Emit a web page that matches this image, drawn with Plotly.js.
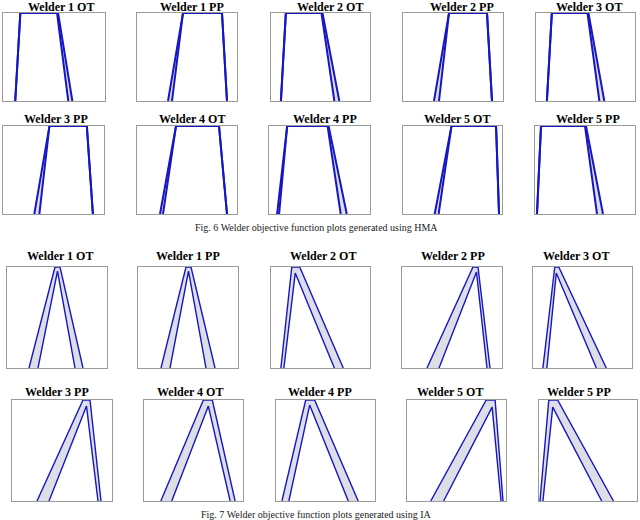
<!DOCTYPE html>
<html>
<head>
<meta charset="utf-8">
<script src="https://cdn.plot.ly/plotly-3.0.1.min.js"></script>
<style>
  html, body { margin: 0; padding: 0; background: #fff; }
  #chart { width: 640px; height: 520px; }
</style>
</head>
<body>
<div id="chart"></div>
<script>
// panel titles (same order in both figures)
var titles = ["Welder 1 OT", "Welder 1 PP", "Welder 2 OT", "Welder 2 PP", "Welder 3 OT",
              "Welder 3 PP", "Welder 4 OT", "Welder 4 PP", "Welder 5 OT", "Welder 5 PP"];

// Fig. 6 (HMA): x of the trapezoid corners [bottom-left, top-left, top-right, bottom-right]
var hmaUpper = [
  [0.12, 0.17, 0.54, 0.68], [0.31, 0.46, 0.85, 0.90], [0.10, 0.15, 0.52, 0.69],
  [0.31, 0.46, 0.84, 0.89], [0.11, 0.16, 0.53, 0.69], [0.31, 0.46, 0.83, 0.89],
  [0.23, 0.39, 0.82, 0.90], [0.08, 0.18, 0.59, 0.77], [0.32, 0.49, 0.94, 0.97],
  [0.02, 0.06, 0.51, 0.68]
];
var hmaLower = [
  [0.12, 0.17, 0.53, 0.64], [0.35, 0.46, 0.85, 0.90], [0.10, 0.15, 0.51, 0.64],
  [0.36, 0.46, 0.84, 0.89], [0.11, 0.16, 0.52, 0.64], [0.36, 0.46, 0.83, 0.89],
  [0.26, 0.39, 0.82, 0.90], [0.10, 0.18, 0.58, 0.71], [0.36, 0.49, 0.94, 0.97],
  [0.02, 0.06, 0.50, 0.62]
];
var hmaLowerPeak = [1, 1, 1, 1, 1, 1, 1, 1, 1, 1];

// Fig. 7 (IA)
var iaUpper = [
  [0.22, 0.48, 0.53, 0.76], [0.23, 0.48, 0.53, 0.77], [0.10, 0.21, 0.29, 0.73],
  [0.25, 0.71, 0.76, 0.88], [0.10, 0.22, 0.26, 0.74], [0.25, 0.71, 0.78, 0.89],
  [0.17, 0.60, 0.69, 0.92], [0.06, 0.30, 0.39, 0.83], [0.24, 0.80, 0.89, 0.97],
  [0.01, 0.10, 0.19, 0.76]
];
var iaLower = [
  [0.31, 0.505, 0.505, 0.68], [0.32, 0.505, 0.505, 0.68], [0.13, 0.245, 0.245, 0.64],
  [0.37, 0.745, 0.745, 0.85], [0.14, 0.235, 0.235, 0.64], [0.37, 0.745, 0.745, 0.86],
  [0.28, 0.65, 0.65, 0.87], [0.13, 0.34, 0.34, 0.73], [0.37, 0.86, 0.86, 0.95],
  [0.04, 0.14, 0.14, 0.64]
];
var iaLowerPeak = [0.96, 0.96, 0.94, 0.95, 0.94, 0.94, 0.94, 0.95, 0.93, 0.93];

var captions = ["Fig. 6 Welder objective function plots generated using HMA",
                "Fig. 7 Welder objective function plots generated using IA"];

// layout in pixels: panel boxes per row [x0, x1], row [y0, y1], title centres
var W = 640, H = 520;
var rowsY = [[13, 101], [126, 214], [267, 368], [400, 501]];
var boxesX = [
  [[3, 105], [137, 237], [271, 370], [403, 503], [536, 635]],
  [[3, 104], [137, 237], [269, 370], [403, 502], [535, 635]],
  [[7, 107], [138, 238], [271, 370], [402, 502], [533, 632]],
  [[12, 112], [144, 243], [276, 375], [407, 506], [539, 637]]
];
var titleCx = [[61, 192, 330, 462, 589], [56, 192, 325, 457, 588],
               [60, 188, 323, 453, 576], [57, 190, 320, 450, 579]];
var titleCy = [7, 119, 256, 392];
var captionY = [227, 514];

var blue = "#1616c4", grey = "#dedee6";
var traces = [];
var layout = {
  width: W, height: H,
  margin: {l: 0, r: 0, t: 0, b: 0},
  paper_bgcolor: "#fff", plot_bgcolor: "#fff",
  showlegend: false,
  annotations: []
};

function addPanel(k, upper, lower, peak, lw) {
  var row = Math.floor(k / 5), col = k % 5;
  var n = k + 1;
  var xa = n === 1 ? "x" : "x" + n, ya = n === 1 ? "y" : "y" + n;
  var yU = [0, 1, 1, 0], yL = [0, peak, peak, 0];
  // grey band between the two membership functions
  traces.push({x: upper, y: yU, xaxis: xa, yaxis: ya, mode: "lines", fill: "toself",
               fillcolor: grey, line: {width: 0}, hoverinfo: "skip"});
  traces.push({x: lower, y: yL, xaxis: xa, yaxis: ya, mode: "lines", fill: "toself",
               fillcolor: "#fff", line: {width: 0}, hoverinfo: "skip"});
  traces.push({x: upper, y: yU, xaxis: xa, yaxis: ya, mode: "lines",
               line: {color: blue, width: lw}});
  traces.push({x: lower, y: yL, xaxis: xa, yaxis: ya, mode: "lines",
               line: {color: blue, width: lw}});

  var bx = boxesX[row][col], by = rowsY[row];
  var ax = {range: [0, 1], showgrid: false, zeroline: false, showticklabels: false,
            ticks: "", showline: true, mirror: true, linecolor: "#9a9a9a", linewidth: 1,
            fixedrange: true};
  var xk = n === 1 ? "xaxis" : "xaxis" + n, yk = n === 1 ? "yaxis" : "yaxis" + n;
  layout[xk] = Object.assign({}, ax, {domain: [bx[0] / W, bx[1] / W], anchor: ya});
  layout[yk] = Object.assign({}, ax, {domain: [1 - by[1] / H, 1 - by[0] / H], anchor: xa});

  layout.annotations.push({
    text: "<b>" + titles[k % 10] + "</b>", xref: "paper", yref: "paper",
    x: titleCx[row][col] / W, y: 1 - titleCy[row] / H, xanchor: "center", yanchor: "middle",
    showarrow: false, font: {family: "Liberation Serif, Times New Roman, serif", size: 12, color: "#000"}
  });
}

for (var i = 0; i < 10; i++) addPanel(i, hmaUpper[i], hmaLower[i], hmaLowerPeak[i], 2);
for (var j = 0; j < 10; j++) addPanel(10 + j, iaUpper[j], iaLower[j], iaLowerPeak[j], 1.4);

captions.forEach(function (c, idx) {
  layout.annotations.push({
    text: c, xref: "paper", yref: "paper", x: 316 / W, y: 1 - captionY[idx] / H,
    xanchor: "center", yanchor: "middle", showarrow: false,
    font: {family: "Liberation Serif, Times New Roman, serif", size: 10, color: "#222"}
  });
});

Plotly.newPlot("chart", traces, layout, {staticPlot: true, displayModeBar: false});
</script>
</body>
</html>
